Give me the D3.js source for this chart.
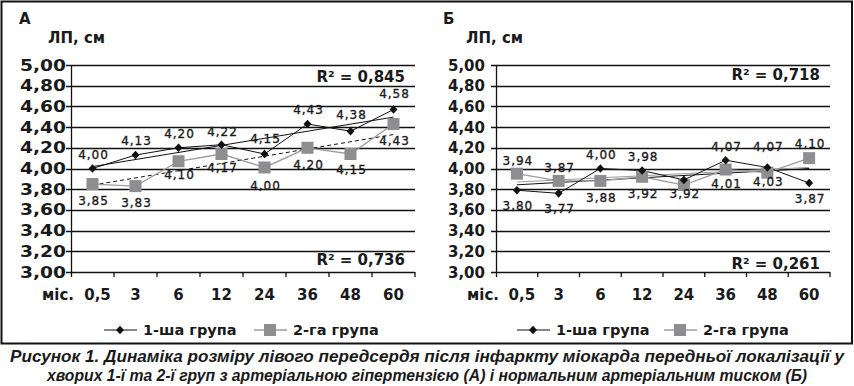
<!DOCTYPE html>
<html>
<head>
<meta charset="utf-8">
<script src="https://cdn.jsdelivr.net/npm/d3@7"></script>
<style>
  body { margin: 0; background: #fff; }
  svg text { font-family: "DejaVu Sans", sans-serif; fill: #1a1a1a; }
</style>
</head>
<body>
<div id="chart"></div>
<script>
// months after infarction (x categories)
var months = ["0,5", "3", "6", "12", "24", "36", "48", "60"];

// panel A: plotted points and printed labels
var groupA1 = [4.00, 4.13, 4.20, 4.23, 4.14, 4.43, 4.36, 4.57];
var groupA2 = [3.85, 3.83, 4.07, 4.14, 4.01, 4.20, 4.14, 4.43];
var labelsA1 = [4.00, 4.13, 4.20, 4.22, 4.15, 4.43, 4.38, 4.58];
var labelsA2 = [3.85, 3.83, 4.10, 4.17, 4.00, 4.20, 4.15, 4.43];
var placeA1 = ["up", "up", "up", "up", "up", "up", "up", "up"];
var placeA2 = ["dn", "dn", "dn", "dn", "dn", "dn", "dn", "dn"];

// panel Б
var groupB1 = [3.79, 3.76, 4.00, 3.98, 3.89, 4.08, 4.01, 3.86];
var groupB2 = [3.95, 3.88, 3.88, 3.92, 3.84, 3.99, 3.96, 4.10];
var labelsB1 = [3.80, 3.77, 4.00, 3.98, null, 4.07, 4.07, 3.87];
var labelsB2 = [3.94, 3.87, 3.88, 3.92, 3.92, 4.01, 4.03, 4.10];
var placeB1 = ["dn", "dn", "up", "up", "up", "up", "up", "dn"];
var placeB2 = ["up", "up", "dn", "dn", "dn", "dn", "dn", "up"];

var r2A = ["R² = 0,845", "R² = 0,736"];
var r2B = ["R² = 0,718", "R² = 0,261"];

var seriesNames = ["1-ша група", "2-га група"];
var caption = [
  "Рисунок 1. Динаміка розміру лівого передсердя після інфаркту міокарда передньої локалізації у",
  "хворих 1-ї та 2-ї груп з артеріальною гіпертензією (А) і нормальним артеріальним тиском (Б)"
];

var W = 854, H = 386;
var svg = d3.select("#chart").append("svg").attr("width", W).attr("height", H);

// outer frame
svg.append("rect")
  .attr("x", 1.5).attr("y", 1.5)
  .attr("width", 850.5).attr("height", 342)
  .style("fill", "none").style("stroke", "#111").style("stroke-width", 2);

var fmt = function(v) { return d3.format(".2f")(v).replace(".", ","); };
var grey = "#8e8e90";

function diamond(g, x, y) {
  g.append("path")
    .attr("d", "M" + x + "," + (y - 4.3) + "L" + (x + 4) + "," + y + "L" + x + "," + (y + 4.3) + "L" + (x - 4) + "," + y + "Z")
    .style("fill", "#111");
}
function square(g, x, y) {
  g.append("rect")
    .attr("x", x - 6).attr("y", y - 6).attr("width", 12).attr("height", 12)
    .style("fill", grey);
}

function trend(vals) {
  var n = vals.length, mx = (n + 1) / 2, my = d3.mean(vals);
  var sxy = 0, sxx = 0;
  vals.forEach(function(v, i) { sxy += (i + 1 - mx) * (v - my); sxx += (i + 1 - mx) * (i + 1 - mx); });
  var b = sxy / sxx;
  return [my + b * (1 - mx), my + b * (n - mx)];
}

function drawPanel(p) {
  var g = svg.append("g");

  var x = d3.scaleBand().domain(months).range([p.x0, p.x1]);
  var y = d3.scaleLinear().domain([3, 5]).range([272, 65]);
  var cx = function(i) { return x(months[i]) + x.bandwidth() / 2; };

  // title letter and unit
  g.append("text").attr("x", p.titleX).attr("y", 24)
    .style("font-size", "15px").style("font-weight", "bold").text(p.title);
  g.append("text").attr("x", p.unitX).attr("y", 43)
    .style("font-size", "15px").style("font-weight", "bold").text("ЛП, см");

  // gridlines
  var ticks = d3.range(3, 5.001, 0.2);
  g.selectAll(".grid").data(ticks).enter().append("line")
    .attr("x1", p.x0 - 5).attr("x2", p.x1)
    .attr("y1", function(d) { return Math.round(y(d)) + 0.5; })
    .attr("y2", function(d) { return Math.round(y(d)) + 0.5; })
    .style("stroke", "#111").style("stroke-width", 1.3);

  var yt = g.selectAll(".ytick").data(ticks).enter().append("text")
    .attr("x", p.tickEnd).attr("y", function(d) { return y(d) + 5.5; })
    .attr("text-anchor", "end")
    .style("font-size", "15px").style("font-weight", "bold")
    .text(fmt);
  if (p.tickWidth) yt.attr("textLength", p.tickWidth).attr("lengthAdjust", "spacingAndGlyphs");

  // axes
  g.append("line").attr("x1", p.x0 + 0.5).attr("x2", p.x0 + 0.5).attr("y1", 65).attr("y2", 277)
    .style("stroke", "#111").style("stroke-width", 1.3);
  var bounds = months.map(function(m) { return x(m); }).concat([p.x1]);
  g.selectAll(".xtick").data(bounds.slice(1)).enter().append("line")
    .attr("x1", function(d) { return d; }).attr("x2", function(d) { return d; })
    .attr("y1", 272).attr("y2", 277)
    .style("stroke", "#111").style("stroke-width", 1.3);

  g.selectAll(".xlab").data(months).enter().append("text")
    .attr("x", function(d, i) { return cx(i) + (i === 0 ? 5 : 0); }).attr("y", 300)
    .attr("text-anchor", "middle")
    .style("font-size", "15px").style("font-weight", "bold")
    .text(function(d) { return d; });
  g.append("text").attr("x", p.x0 + 3).attr("y", 300).attr("text-anchor", "end")
    .style("font-size", "15px").style("font-weight", "bold").text("міс.");

  // trend lines
  var t1 = trend(p.s1), t2 = trend(p.s2);
  g.append("line").attr("x1", cx(0)).attr("x2", cx(7)).attr("y1", y(t1[0])).attr("y2", y(t1[1]))
    .style("stroke", "#111").style("stroke-width", 1);
  g.append("line").attr("x1", cx(0)).attr("x2", cx(7)).attr("y1", y(t2[0])).attr("y2", y(t2[1]))
    .style("stroke", p.trend2Color).style("stroke-width", 1)
    .style("stroke-dasharray", p.trend2Dash);

  // series lines
  var line = d3.line().x(function(d, i) { return cx(i); }).y(function(d) { return y(d); });
  g.append("path").attr("d", line(p.s2)).style("fill", "none").style("stroke", "#9c9c9c").style("stroke-width", 1.3);
  g.append("path").attr("d", line(p.s1)).style("fill", "none").style("stroke", "#111").style("stroke-width", 1);

  p.s2.forEach(function(v, i) { square(g, cx(i), y(v)); });
  p.s1.forEach(function(v, i) { diamond(g, cx(i), y(v)); });

  // value labels
  function labels(vals, place) {
    vals.forEach(function(v, i) {
      if (v == null) return;
      g.append("text")
        .attr("x", cx(i) + 1)
        .attr("y", place[i] === "up" ? y(v) - 10 : y(v) + 21)
        .attr("text-anchor", "middle")
        .style("font-size", "12px").style("letter-spacing", "1px")
        .style("stroke", "#1a1a1a").style("stroke-width", 0.35)
        .text(fmt(v));
    });
  }
  labels(p.l1, p.p1);
  labels(p.l2, p.p2);

  // R² labels
  g.append("text").attr("x", p.x1 - 10).attr("y", p.r2Top).attr("text-anchor", "end")
    .style("font-size", "15px").style("font-weight", "bold").text(p.r2[0]);
  g.append("text").attr("x", p.x1 - 10).attr("y", p.r2Bot).attr("text-anchor", "end")
    .style("font-size", "15px").style("font-weight", "bold").text(p.r2[1]);

  // legend
  var ly = 330;
  g.append("line").attr("x1", p.leg[0]).attr("x2", p.leg[0] + 33).attr("y1", ly).attr("y2", ly)
    .style("stroke", "#111").style("stroke-width", 1);
  diamond(g, p.leg[0] + 16, ly);
  g.append("text").attr("x", p.leg[0] + 39).attr("y", ly + 5)
    .style("font-size", "14.5px").style("font-weight", "bold").text(seriesNames[0]);
  g.append("line").attr("x1", p.leg[1]).attr("x2", p.leg[1] + 33).attr("y1", ly).attr("y2", ly)
    .style("stroke", "#9c9c9c").style("stroke-width", 1.3);
  square(g, p.leg[1] + 16, ly);
  g.append("text").attr("x", p.leg[1] + 39).attr("y", ly + 5)
    .style("font-size", "14.5px").style("font-weight", "bold").text(seriesNames[1]);
}

drawPanel({
  x0: 71, x1: 415, title: "А", titleX: 19, unitX: 48, tickEnd: 66, tickWidth: 46,
  s1: groupA1, s2: groupA2, l1: labelsA1, l2: labelsA2, p1: placeA1, p2: placeA2,
  trend2Color: "#111", trend2Dash: "4,3", r2: r2A, r2Top: 82, r2Bot: 265, leg: [104, 254]
});
drawPanel({
  x0: 496, x1: 830, title: "Б", titleX: 443, unitX: 466, tickEnd: 485, tickWidth: null,
  s1: groupB1, s2: groupB2, l1: labelsB1, l2: labelsB2, p1: placeB1, p2: placeB2,
  trend2Color: "#9c9c9c", trend2Dash: null, r2: r2B, r2Top: 80, r2Bot: 269, leg: [517, 664]
});

// caption
svg.selectAll(".cap").data(caption).enter().append("text")
  .attr("x", 427).attr("y", function(d, i) { return 362 + i * 19; })
  .attr("text-anchor", "middle")
  .attr("textLength", function(d, i) { return i === 0 ? 834 : 760; })
  .attr("lengthAdjust", "spacingAndGlyphs")
  .style("font-family", "'Liberation Sans Narrow', 'Liberation Sans', sans-serif")
  .style("font-style", "italic").style("font-weight", "bold").style("font-size", "16.5px")
  .text(function(d) { return d; });
</script>
</body>
</html>
